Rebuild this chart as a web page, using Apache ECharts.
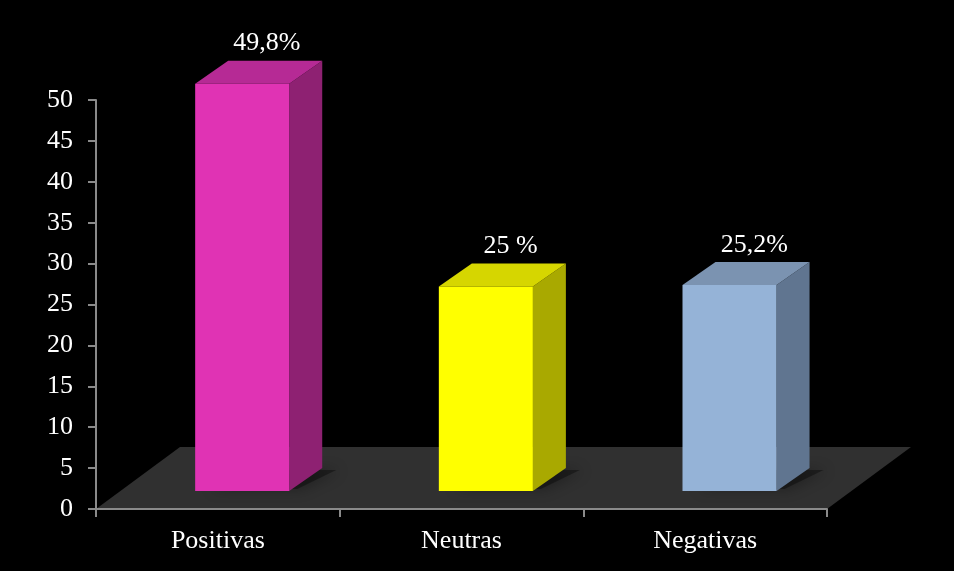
<!DOCTYPE html>
<html>
<head>
<meta charset="utf-8">
<script src="https://cdn.jsdelivr.net/npm/echarts@6/dist/echarts.min.js"></script>
<style>
  html, body { margin: 0; padding: 0; background: #000; }
  #chart { width: 954px; height: 571px; }
</style>
</head>
<body>
<div id="chart"></div>
<script>
// Opinion split, percent of answers
const categories = ['Positivas', 'Neutras', 'Negativas'];
const values = [49.8, 25, 25.2];
const valueLabels = ['49,8%', '25 %', '25,2%'];
const yTicks = [0, 5, 10, 15, 20, 25, 30, 35, 40, 45, 50];

// face colours per bar: front, top, side
const palette = [
  { front: '#E033B4', top: '#B62A95', side: '#8E2172' },
  { front: '#FFFF00', top: '#D6D600', side: '#A9A900' },
  { front: '#95B3D7', top: '#7B93B1', side: '#607590' }
];

const FONT = '"Liberation Serif", "Times New Roman", serif';
// floor depth vector (screen pixels) and where the bars sit inside it
const DEPTH = [84, -62];
const FRONT_AT = 0.29;
const BAR_DEPTH = [33, -23];
const BAR_WIDTH = 0.386;

const chart = echarts.init(document.getElementById('chart'));

function floorItem(params, api) {
  const cs = params.coordSys;
  const yb = cs.y + cs.height;
  const x0 = cs.x, x1 = cs.x + cs.width;
  return {
    type: 'polygon',
    shape: { points: [[x0, yb], [x1, yb], [x1 + DEPTH[0], yb + DEPTH[1]], [x0 + DEPTH[0], yb + DEPTH[1]]] },
    style: { fill: '#303030' },
    z2: 0
  };
}

function barItem(params, api) {
  const idx = api.value(0);
  const val = api.value(1);
  const base = api.coord([idx, 0]);
  const top = api.coord([idx, val]);
  const band = api.size([1, 0])[0];
  const w = band * BAR_WIDTH;
  const h = base[1] - top[1];
  const sx = DEPTH[0] * FRONT_AT, sy = DEPTH[1] * FRONT_AT;
  const fx0 = base[0] + sx - w / 2;
  const fx1 = fx0 + w;
  const fyb = base[1] + sy;
  const fyt = fyb - h;
  const dx = BAR_DEPTH[0], dy = BAR_DEPTH[1];
  const c = palette[idx];
  const backTop = fyt + dy;
  return {
    type: 'group',
    children: [
      { // soft shadow cast on the floor
        type: 'polygon',
        shape: { points: [[fx0 + 10, fyb - 2], [fx1 + 8, fyb - 2], [fx1 + dx + 14, fyb + dy + 2], [fx0 + dx + 14, fyb + dy + 2]] },
        style: { fill: 'rgba(0,0,0,0.35)', shadowBlur: 14, shadowColor: 'rgba(0,0,0,0.9)', shadowOffsetX: 4 },
        z2: 1
      },
      {
        type: 'polygon',
        shape: { points: [[fx1, fyb], [fx1 + dx, fyb + dy], [fx1 + dx, fyt + dy], [fx1, fyt]] },
        style: { fill: c.side },
        z2: 2
      },
      {
        type: 'polygon',
        shape: { points: [[fx0, fyt], [fx1, fyt], [fx1 + dx, fyt + dy], [fx0 + dx, fyt + dy]] },
        style: { fill: c.top },
        z2: 2
      },
      {
        type: 'rect',
        shape: { x: fx0, y: fyt, width: w, height: h },
        style: { fill: c.front },
        z2: 3
      },
      {
        type: 'text',
        style: {
          text: valueLabels[idx],
          x: fx0 + w / 2 + dx * 0.75,
          y: backTop - 17,
          fill: '#ffffff',
          font: '26px ' + FONT,
          align: 'center',
          verticalAlign: 'middle'
        },
        z2: 5
      }
    ]
  };
}

chart.setOption({
  backgroundColor: '#000000',
  animation: false,
  grid: { left: 96, right: 127, top: 100, bottom: 62 },
  xAxis: {
    type: 'category',
    data: categories,
    boundaryGap: true,
    axisLine: { show: true, lineStyle: { color: '#8a8a8a', width: 2 } },
    axisTick: { show: true, length: 8, alignWithLabel: false, lineStyle: { color: '#8a8a8a', width: 2 } },
    axisLabel: { color: '#ffffff', fontFamily: FONT, fontSize: 26, margin: 19 },
    z: 3
  },
  yAxis: {
    type: 'value',
    min: 0,
    max: 50,
    interval: 5,
    axisLine: { show: true, lineStyle: { color: '#8a8a8a', width: 2 } },
    axisTick: { show: true, length: 8, lineStyle: { color: '#8a8a8a', width: 2 } },
    axisLabel: {
      color: '#ffffff', fontFamily: FONT, fontSize: 26, margin: 23,
      formatter: v => (yTicks.includes(v) ? String(v) : '')
    },
    splitLine: { show: false }
  },
  series: [
    {
      type: 'custom',
      z: 1,
      renderItem: floorItem,
      data: [[0, 0]],
      silent: true
    },
    {
      type: 'custom',
      z: 4,
      renderItem: barItem,
      encode: { x: 0, y: 1 },
      data: values.map((v, i) => [i, v]),
      clip: false
    }
  ]
});
</script>
</body>
</html>
